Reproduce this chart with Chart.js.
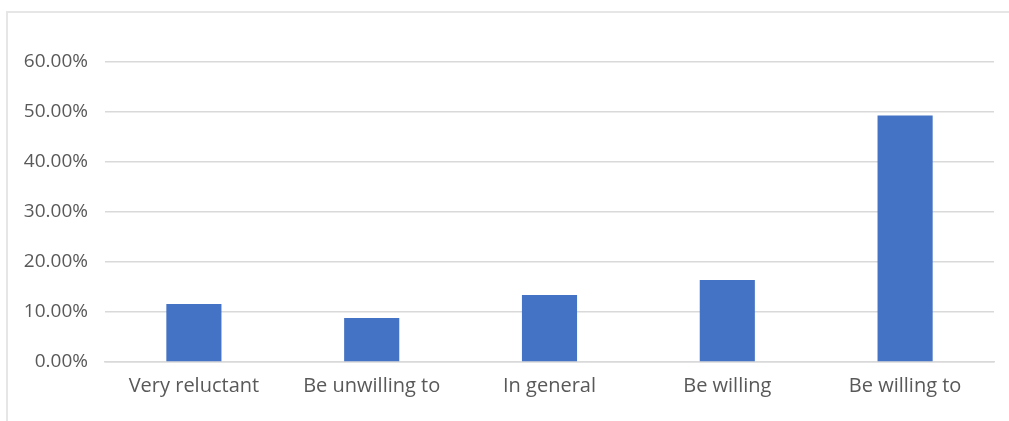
<!DOCTYPE html>
<html>
<head>
<meta charset="utf-8">
<script src="https://cdn.jsdelivr.net/npm/chart.js@4"></script>
<style>
  html, body { margin: 0; padding: 0; background: #fff; }
  #wrap { position: relative; width: 1009px; height: 421px; overflow: hidden; }
  #frame {
    position: absolute; left: 6px; top: 11px; right: -10px; bottom: -10px;
    border-left: 2px solid #e6e6e6; border-top: 2px solid #e6e6e6;
  }
  canvas { position: absolute; left: 0; top: 0; }
</style>
</head>
<body>
<div id="wrap">
  <div id="frame"></div>
  <canvas id="chart" width="1009" height="421"></canvas>
</div>
<script>
const categories = ['Very reluctant', 'Be unwilling to', 'In general', 'Be willing', 'Be willing to'];
const shares = [11.6, 8.8, 13.4, 16.4, 49.3];
const yTicks = [0, 10, 20, 30, 40, 50, 60];

const labelColor = '#595959';
const gridColor = '#d9d9d9';
const fontFamily = '"Open Sans", "Noto Sans", sans-serif';

const ctx = document.getElementById('chart').getContext('2d');

new Chart(ctx, {
  type: 'bar',
  data: {
    labels: categories,
    datasets: [{
      data: shares,
      backgroundColor: '#4472C4',
      borderWidth: 0,
      categoryPercentage: 1,
      barPercentage: 0.31
    }]
  },
  options: {
    responsive: false,
    animation: false,
    layout: { padding: { top: 62, right: 15, bottom: 0, left: 0 } },
    plugins: {
      legend: { display: false },
      tooltip: { enabled: false }
    },
    scales: {
      x: {
        grid: { display: false, drawTicks: false },
        border: { display: true, color: gridColor, width: 1.5 },
        ticks: { color: labelColor, font: { family: fontFamily, size: 20 }, padding: 12, maxRotation: 0 },
        afterFit: scale => { scale.height = 59; }
      },
      y: {
        min: 0,
        max: 60,
        afterBuildTicks: scale => { scale.ticks = yTicks.map(v => ({ value: v })); },
        grid: { color: gridColor, lineWidth: 1.5, drawTicks: false },
        border: { display: false },
        ticks: {
          color: labelColor,
          font: { family: fontFamily, size: 19 },
          padding: 17,
          callback: v => v.toFixed(2) + '%'
        },
        afterFit: scale => { scale.width = 105; }
      }
    }
  }
});
</script>
</body>
</html>
